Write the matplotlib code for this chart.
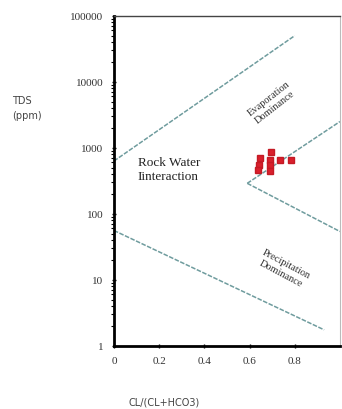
import numpy as np
import matplotlib
matplotlib.use("Agg")
import matplotlib.pyplot as plt

# Gibbs diagram boundary lines (x, TDS)
upper_left_x = [0.0, 0.8]
upper_left_y = [630, 50000]
right_upper_x = [0.59, 1.0]
right_upper_y = [290, 2500]
right_lower_x = [0.59, 1.0]
right_lower_y = [290, 54]
lower_left_x = [0.0, 0.93]
lower_left_y = [56, 1.75]

# samples
cl_ratio = [0.695, 0.646, 0.69, 0.735, 0.783, 0.64, 0.69, 0.637, 0.69]
tds = [855, 695, 650, 650, 650, 545, 545, 455, 440]

xticks = [0, 0.2, 0.4, 0.6, 0.8]
yticks = [1, 10, 100, 1000, 10000, 100000]

serif = ["Liberation Serif", "DejaVu Serif"]
line_col = "#6f9c9e"

fig = plt.figure(figsize=(3.42, 4.10), dpi=100)
ax = fig.add_axes([0.333, 0.154, 0.661, 0.805])

for xs, ys in [(upper_left_x, upper_left_y), (right_upper_x, right_upper_y),
               (right_lower_x, right_lower_y), (lower_left_x, lower_left_y)]:
    ax.plot(xs, ys, color=line_col, lw=1.1, linestyle=(0, (3, 1)))

ax.plot(cl_ratio, tds, linestyle="none", marker="s", markersize=5,
        color="#d9202c", markeredgecolor="#c41a25")

ax.set_yscale("log")
ax.set_xlim(0, 1.0)
ax.set_ylim(1, 100000)
ax.set_xticks(xticks)
ax.set_xticklabels(["0", "0.2", "0.4", "0.6", "0.8"], family=serif, fontsize=8, color="#333333")
ax.set_yticks(yticks)
ax.set_yticklabels([str(v) for v in yticks], family=serif, fontsize=8, color="#333333")
ax.tick_params(axis="both", which="major", length=3, width=1, direction="inout", pad=6)
ax.tick_params(axis="y", which="minor", length=2.5, width=0.8, direction="out")

ax.spines["left"].set_linewidth(2)
ax.spines["bottom"].set_linewidth(2)
ax.spines["top"].set_linewidth(1)
ax.spines["top"].set_color("#444444")
ax.spines["right"].set_linewidth(0.8)
ax.spines["right"].set_color("#bbbbbb")

ax.text(0.105, 480, "Rock Water\nIinteraction", family=serif, fontsize=9.5,
        ha="left", va="center", linespacing=1.25, color="#222222")
ax.text(0.70, 4900, "Evaporation\nDominance", family=serif, fontsize=7.5,
        ha="center", va="center", rotation=38, color="#333333")
ax.text(0.75, 15, "Precipitation\nDominance", family=serif, fontsize=7.5,
        ha="center", va="center", rotation=-28, color="#333333")

fig.text(0.035, 0.735, "TDS\n(ppm)", fontsize=7, color="#444444", ha="left", va="center",
         linespacing=1.6)
fig.text(0.48, 0.018, "CL/(CL+HCO3)", fontsize=7, color="#444444", ha="center", va="center")

fig.savefig("out.png", dpi=100)
